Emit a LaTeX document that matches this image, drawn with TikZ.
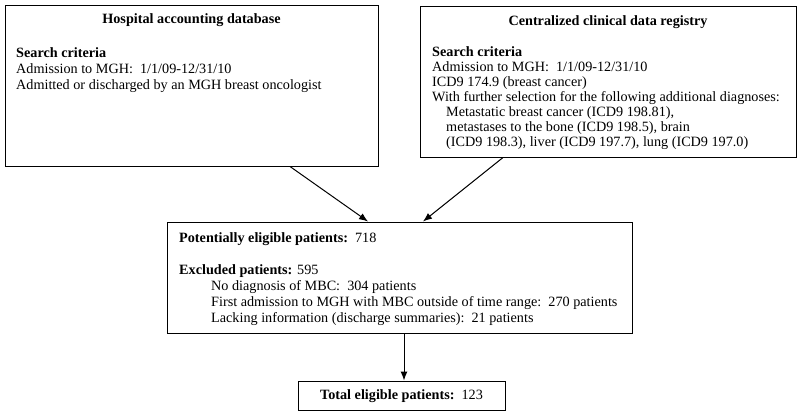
\documentclass[tikz,border=0pt]{standalone}
\usepackage{fontspec}
\setmainfont{Liberation Serif}
\usetikzlibrary{positioning,arrows.meta}

\begin{document}
\begin{tikzpicture}[x=1pt, y=-1pt, >={Latex[length=9pt,width=7pt]},
    box/.style={draw, rectangle, line width=1pt, inner sep=0pt},
    txt/.style={align=left, inner sep=0pt, anchor=north west, font=\fontsize{14.2}{16}\selectfont},
    ttl/.style={inner sep=0pt, font=\fontsize{14.2}{16}\selectfont\bfseries}]
  \useasboundingbox (0,0) rectangle (800,416);
  % boxes
  \node[box, minimum width=373pt, minimum height=161pt] (hosp) at (191.5,85.5) {};
  \node[box, minimum width=376pt, minimum height=151pt] (reg) at (608,81.5) {};
  \node[box, minimum width=465pt, minimum height=111pt] (pot) at (399.5,277.5) {};
  \node[box, minimum width=207pt, minimum height=29pt] (total) at (401.5,395.5) {};
  % titles and texts
  \node[ttl] (hospttl) at (191.5,20) {Hospital accounting database};
  \node[ttl] (regttl) at (608,22) {Centralized clinical data registry};
  \node[txt] (hosptxt) at (16,47) {\textbf{Search criteria}\\
    Admission to MGH:\ \ 1/1/09-12/31/10\\
    Admitted or discharged by an MGH breast oncologist};
  \node[txt, font=\fontsize{14.2}{15}\selectfont] (regtxt) at (432,46) {\textbf{Search criteria}\\
    Admission to MGH:\ \ 1/1/09-12/31/10\\
    ICD9 174.9 (breast cancer)\\
    With further selection for the following additional diagnoses:\\
    \hspace*{14pt}Metastatic breast cancer (ICD9 198.81),\\
    \hspace*{14pt}metastases to the bone (ICD9 198.5), brain\\
    \hspace*{14pt}(ICD9 198.3), liver (ICD9 197.7), lung (ICD9 197.0)};
  \node[txt] (pottxt) at (179,232) {\textbf{Potentially eligible patients:}\ \ 718\\[16pt]
    \textbf{Excluded patients:} 595\\
    \hspace*{32pt}No diagnosis of MBC:\ \ 304 patients\\
    \hspace*{32pt}First admission to MGH with MBC outside of time range:\ \ 270 patients\\
    \hspace*{32pt}Lacking information (discharge summaries):\ \ 21 patients};
  \node[inner sep=0pt, font=\fontsize{14.2}{16}\selectfont] (totaltxt) at (401.5,396) {\textbf{Total eligible patients:}\ \ 123};
  % arrows
  \draw[->, line width=1pt] ([xshift=98.5pt]hosp.south) -- ([xshift=-31.5pt]pot.north);
  \draw[->, line width=1pt] ([xshift=-105pt]reg.south) -- ([xshift=23.5pt]pot.north);
  \draw[->, line width=1pt] ([xshift=4.5pt]pot.south) -- ([xshift=2.5pt]total.north);
\end{tikzpicture}
\end{document}
